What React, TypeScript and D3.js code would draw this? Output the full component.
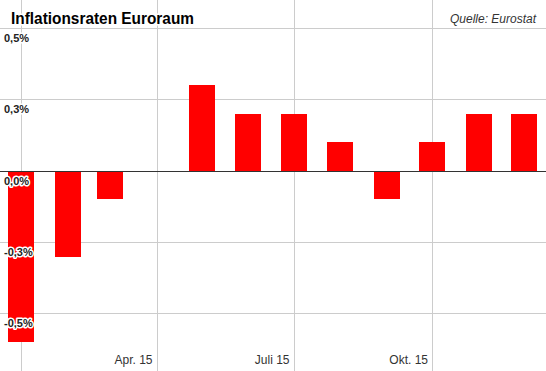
import React, { useEffect, useRef } from "react";
import * as d3 from "d3";

const months = [
  "2015-01", "2015-02", "2015-03", "2015-04", "2015-05", "2015-06",
  "2015-07", "2015-08", "2015-09", "2015-10", "2015-11", "2015-12",
];
const rates = [-0.6, -0.3, -0.1, 0.0, 0.3, 0.2, 0.2, 0.1, -0.1, 0.1, 0.2, 0.2];

const yTicks = [-0.5, -0.25, 0, 0.25, 0.5];
const yTickLabels = ["-0,5%", "-0,3%", "0,0%", "0,3%", "0,5%"];

const xGridMonths = ["2015-01", "2015-04", "2015-07", "2015-10"];
const xTickLabels = ["", "Apr. 15", "Juli 15", "Okt. 15"];

const width = 546;
const height = 371;
const parse = d3.timeParse("%Y-%m");

export default function App() {
  const ref = useRef<SVGSVGElement>(null);

  useEffect(() => {
    const svg = d3.select(ref.current);
    svg.selectAll("*").remove();

    const x = d3
      .scaleTime()
      .domain([new Date(2014, 11, 18), new Date(2015, 11, 15, 17)])
      .range([0, width]);
    const y = d3.scaleLinear().domain([-0.5, 0.5]).range([313, 28]);

    const font = "'Liberation Sans', Arial, sans-serif";

    // grid
    svg
      .append("g")
      .selectAll("line")
      .data(yTicks.filter((d) => d !== 0))
      .enter()
      .append("line")
      .attr("x1", 0)
      .attr("x2", width)
      .attr("y1", (d) => Math.round(y(d)) + 0.5)
      .attr("y2", (d) => Math.round(y(d)) + 0.5)
      .attr("stroke", "#cccccc");

    svg
      .append("g")
      .selectAll("line")
      .data(xGridMonths)
      .enter()
      .append("line")
      .attr("x1", (d) => Math.round(x(parse(d)!)) + 0.5)
      .attr("x2", (d) => Math.round(x(parse(d)!)) + 0.5)
      .attr("y1", 0)
      .attr("y2", height)
      .attr("stroke", "#cccccc");

    // bars
    const barW = 26;
    svg
      .append("g")
      .selectAll("rect")
      .data(months)
      .enter()
      .append("rect")
      .attr("x", (d) => Math.round(x(parse(d)!) - barW / 2))
      .attr("width", barW)
      .attr("y", (_, i) => Math.round(Math.min(y(rates[i]), y(0))))
      .attr("height", (_, i) => Math.round(Math.abs(y(rates[i]) - y(0))))
      .attr("fill", "#ff0000");

    // zero line
    svg
      .append("line")
      .attr("x1", 0)
      .attr("x2", width)
      .attr("y1", Math.round(y(0)) + 0.5)
      .attr("y2", Math.round(y(0)) + 0.5)
      .attr("stroke", "#333333");

    // y labels
    svg
      .append("g")
      .selectAll("text")
      .data(yTicks)
      .enter()
      .append("text")
      .attr("x", 4)
      .attr("y", (d) => y(d) + 14)
      .style("font-family", font)
      .style("font-size", "11px")
      .style("font-weight", "bold")
      .attr("fill", "#222222")
      .attr("stroke", "#ffffff")
      .attr("stroke-width", 3)
      .attr("stroke-linejoin", "round")
      .attr("paint-order", "stroke")
      .text((_, i) => yTickLabels[i]);

    // x labels
    svg
      .append("g")
      .selectAll("text")
      .data(xGridMonths)
      .enter()
      .append("text")
      .attr("x", (d) => x(parse(d)!) - 4)
      .attr("y", 364)
      .attr("text-anchor", "end")
      .style("font-family", font)
      .style("font-size", "12px")
      .attr("fill", "#333333")
      .text((_, i) => xTickLabels[i]);

    // title
    svg
      .append("text")
      .attr("x", 11)
      .attr("y", 24)
      .attr("textLength", 183)
      .attr("lengthAdjust", "spacingAndGlyphs")
      .style("font-family", font)
      .style("font-size", "17px")
      .style("font-weight", "bold")
      .attr("fill", "#000000")
      .attr("stroke", "#ffffff")
      .attr("stroke-width", 3)
      .attr("paint-order", "stroke")
      .text("Inflationsraten Euroraum");

    svg
      .append("text")
      .attr("x", 536)
      .attr("y", 23)
      .attr("text-anchor", "end")
      .style("font-family", font)
      .style("font-size", "12px")
      .style("font-style", "italic")
      .attr("fill", "#333333")
      .text("Quelle: Eurostat");
  }, []);

  return (
    <svg
      ref={ref}
      width={width}
      height={height}
      style={{ position: "absolute", left: 0, top: 0, background: "#fff" }}
    />
  );
}
